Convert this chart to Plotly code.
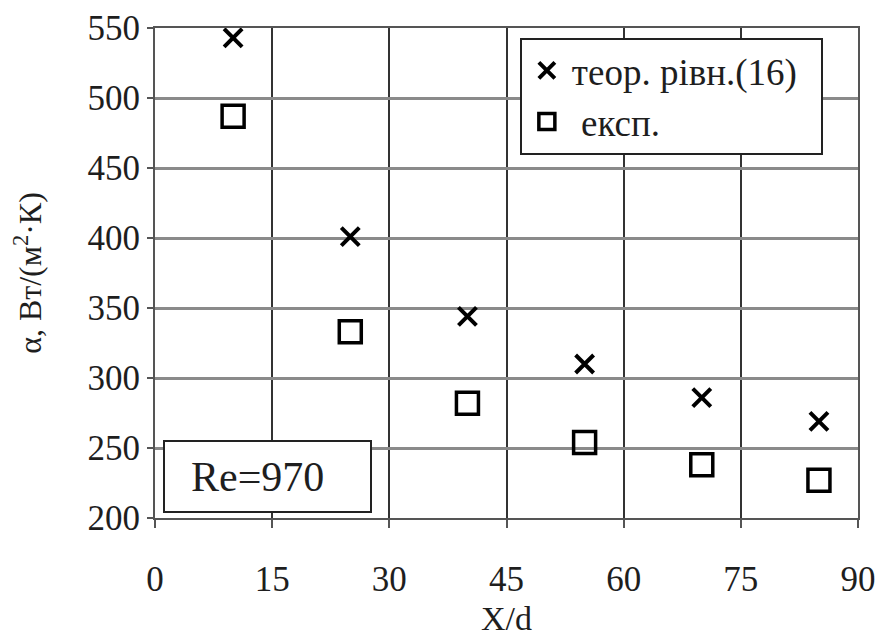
import plotly.graph_objects as go

x_vals = [10, 25, 40, 55, 70, 85]
theor = [543, 401, 344, 310, 286, 269]
exper = [487, 333, 282, 254, 238, 227]
x_ticks = [0, 15, 30, 45, 60, 75, 90]
y_ticks = [200, 250, 300, 350, 400, 450, 500, 550]

FONT = "Liberation Serif"
TXT = "#1e1e1e"

fig = go.Figure()
fig.add_trace(go.Scatter(
    x=x_vals, y=theor, mode="markers", name="теор. рівн.(16)&nbsp;&nbsp;",
    marker=dict(symbol="x-thin", size=18, color="black", line=dict(width=4, color="black")),
))
fig.add_trace(go.Scatter(
    x=x_vals, y=exper, mode="markers", name="&nbsp;експ.",
    marker=dict(symbol="square-open", size=22, color="black", line=dict(width=3.5, color="black")),
))

fig.update_layout(
    width=880, height=638,
    margin=dict(l=155, r=22, t=28, b=120),
    paper_bgcolor="white", plot_bgcolor="white",
    font=dict(family=FONT, color=TXT, size=30),
    showlegend=True,
    legend=dict(
        x=0.519, y=0.98, xanchor="left", yanchor="top",
        bgcolor="white", bordercolor="#222", borderwidth=2,
        font=dict(family=FONT, size=37, color=TXT),
        itemwidth=40, tracegroupgap=2,
    ),
    annotations=[dict(
        x=0.16, y=0.0847, xref="paper", yref="paper",
        xanchor="center", yanchor="middle",
        text="&nbsp;&nbsp;Re=970", showarrow=False, align="left",
        font=dict(family=FONT, size=42, color=TXT),
        bgcolor="white", bordercolor="#222", borderwidth=2,
        width=195, height=59, borderpad=5,
    )],
)

fig.update_xaxes(
    range=[0, 90], tickvals=x_ticks, ticktext=[str(v) for v in x_ticks],
    showgrid=True, gridcolor="#333", gridwidth=1.5,
    showline=True, linecolor="#555", linewidth=2, mirror=True,
    ticks="outside", ticklen=8, tickcolor="#555", tickwidth=2,
    ticklabelstandoff=21,
    tickfont=dict(family=FONT, size=35, color=TXT),
    title=dict(text="X/d", font=dict(family=FONT, size=34, color=TXT), standoff=8),
    zeroline=False, automargin=False,
)
fig.update_yaxes(
    range=[200, 550], tickvals=y_ticks, ticktext=[str(v) for v in y_ticks],
    showgrid=True, gridcolor="#8a8a8a", gridwidth=3,
    showline=True, linecolor="#555", linewidth=2, mirror=True,
    ticks="outside", ticklen=6, tickcolor="#555", tickwidth=2,
    tickfont=dict(family=FONT, size=35, color=TXT),
    title=dict(text="α, Вт/(м<sup>2</sup>·К)", font=dict(family=FONT, size=32, color=TXT), standoff=36),
    zeroline=False, automargin=False,
)

fig.write_html(
    "out.html",
    config={"displayModeBar": False},
    post_script="document.body.style.margin='0';document.body.style.overflow='hidden';",
)
